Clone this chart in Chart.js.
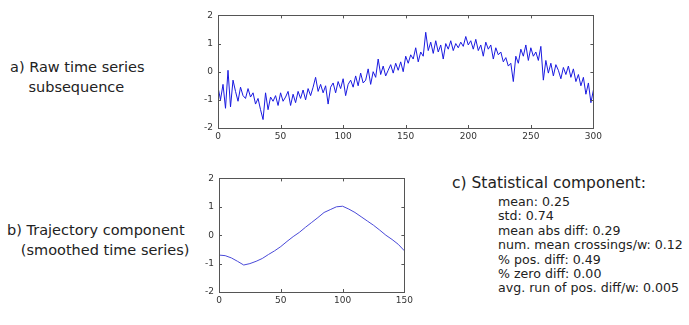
<!DOCTYPE html>
<html lang="en">
<head>
<meta charset="UTF-8">
<title>Time series components</title>
<script src="https://cdn.jsdelivr.net/npm/chart.js"></script>
<style>
  body { margin: 0; width: 689px; height: 325px; background: #fff; position: relative; overflow: hidden;
         font-family: "DejaVu Sans", sans-serif; color: #222; }
  .lbl { position: absolute; font-size: 14.5px; line-height: 20px; white-space: nowrap; }
  .stats { position: absolute; left: 498px; top: 195px; font-size: 12.6px; line-height: 14.4px; white-space: nowrap; }
  canvas { position: absolute; }
</style>
</head>
<body>
<div class="lbl" style="left:10px;top:57px">a) Raw time series<br>&nbsp;&nbsp;&nbsp;&nbsp;subsequence</div>
<div class="lbl" style="left:7px;top:220px">b) Trajectory component<br>&nbsp;&nbsp;&nbsp;(smoothed time series)</div>
<div class="lbl" style="left:452px;top:173px;font-size:15.5px">c) Statistical component:</div>
<div class="stats" id="stats"></div>

<div id="topWrap" style="position:absolute;left:190px;top:5px;width:415px;height:143px"><canvas id="rawChart"></canvas></div>
<div id="botWrap" style="position:absolute;left:191px;top:168px;width:225px;height:144px"><canvas id="smoothChart"></canvas></div>

<script>
// raw subsequence, one value every 2 steps (x = 0..300)
const rawStep = 2;
const rawValues = [
  -0.55, -1.0, -0.45, -1.3, 0.05, -1.25, -0.3, -0.7, -1.05, -0.55,
  -0.85, -0.95, -0.6, -0.9, -0.75, -1.15, -0.95, -1.35, -1.7, -0.75,
  -1.35, -0.9, -1.05, -0.85, -1.2, -0.75, -1.05, -0.9, -0.7, -1.2,
  -0.8, -1.1, -0.7, -0.95, -0.65, -1.0, -0.6, -0.85, -0.55, -0.2,
  -0.7, -0.45, -0.75, -0.5, -1.15, -0.55, -0.4, -0.75, -0.35, -0.6,
  -0.25, -0.85, -0.45, -0.3, -0.55, -0.15, -0.5, -0.05, -0.4, -0.3,
  0.1, -0.45, 0.0, -0.2, 0.45, -0.1, 0.2, -0.15, 0.05, 0.25,
  -0.05, 0.3, 0.05, 0.35, 0.0, 0.55, 0.3, 0.6, 0.45, 0.85,
  0.35, 0.7, 0.55, 1.4, 0.75, 1.05, 0.65, 1.1, 0.7, 0.95,
  0.45, 1.0, 0.8, 1.1, 0.75, 1.0, 0.85, 1.05, 0.9, 1.25,
  0.95, 1.1, 0.8, 1.15, 0.75, 0.95, 0.55, 1.05, 0.8, 0.95,
  0.45, 0.85, 0.6, 0.7, 0.35, 0.5, 0.2, 0.3, -0.35, 0.55,
  0.3, 0.8, 0.55, 0.95, 0.4, 0.85, 0.55, 0.7, 0.4, 0.9,
  -0.3, 0.4, -0.05, 0.3, -0.15, 0.25, 0.05, -0.25, 0.15, -0.1,
  0.2, -0.2, 0.1, -0.35, -0.1, -0.5, -0.2, -0.8, -0.4, -1.1,
  -0.65
];

// smoothed trajectory, one value every 5 steps (x = 0..150)
const smoothStep = 5;
const smoothValues = [
  -0.7, -0.72, -0.8, -0.92, -1.05, -1.0, -0.92, -0.82, -0.68, -0.55,
  -0.4, -0.22, -0.05, 0.1, 0.28, 0.45, 0.62, 0.8, 0.9, 1.0,
  1.02, 0.92, 0.8, 0.65, 0.5, 0.35, 0.18, 0.0, -0.15, -0.32,
  -0.55
];

const yTicks = [-2, -1, 0, 1, 2];
const rawXTicks = [0, 50, 100, 150, 200, 250, 300];
const smoothXTicks = [0, 50, 100, 150];

const statLines = [
  'mean: 0.25',
  'std: 0.74',
  'mean abs diff: 0.29',
  'num. mean crossings/w: 0.12',
  '% pos. diff: 0.49',
  '% zero diff: 0.00',
  'avg. run of pos. diff/w: 0.005'
];
document.getElementById('stats').innerHTML = statLines.join('<br>');

// matlab-ish box with inward ticks on all four sides
const boxPlugin = {
  id: 'box',
  afterDraw(chart) {
    const { ctx, chartArea: a, scales } = chart;
    ctx.save();
    ctx.strokeStyle = '#555';
    ctx.lineWidth = 1;
    ctx.strokeRect(Math.round(a.left) + 0.5, Math.round(a.top) + 0.5,
                   Math.round(a.right - a.left), Math.round(a.bottom - a.top));
    const len = 3;
    ctx.beginPath();
    scales.x.ticks.forEach(t => {
      const px = Math.round(scales.x.getPixelForValue(t.value)) + 0.5;
      ctx.moveTo(px, a.bottom); ctx.lineTo(px, a.bottom - len);
      ctx.moveTo(px, a.top); ctx.lineTo(px, a.top + len);
    });
    scales.y.ticks.forEach(t => {
      const py = Math.round(scales.y.getPixelForValue(t.value)) + 0.5;
      ctx.moveTo(a.left, py); ctx.lineTo(a.left + len, py);
      ctx.moveTo(a.right, py); ctx.lineTo(a.right - len, py);
    });
    ctx.stroke();
    ctx.restore();
  }
};

function makeChart(id, values, step, xTicks, color) {
  const pts = values.map((v, i) => ({ x: i * step, y: v }));
  return new Chart(document.getElementById(id), {
    type: 'line',
    data: { datasets: [{ data: pts, borderColor: color, borderWidth: 1, pointRadius: 0, tension: 0 }] },
    options: {
      responsive: true,
      maintainAspectRatio: false,
      animation: false,
      layout: { padding: { top: 8, right: 7, left: 0, bottom: 0 } },
      plugins: { legend: { display: false }, tooltip: { enabled: false } },
      scales: {
        x: {
          type: 'linear', min: xTicks[0], max: xTicks[xTicks.length - 1],
          afterBuildTicks: s => { s.ticks = xTicks.map(v => ({ value: v })); },
          afterFit: s => { s.height = 20; },
          grid: { display: false, drawTicks: false },
          border: { display: false },
          ticks: { color: '#333', font: { size: 9, family: 'DejaVu Sans' }, padding: 3, maxRotation: 0 }
        },
        y: {
          min: -2, max: 2,
          afterBuildTicks: s => { s.ticks = yTicks.map(v => ({ value: v })); },
          afterFit: s => { s.width = 28; },
          grid: { display: false, drawTicks: false },
          border: { display: false },
          ticks: { color: '#333', font: { size: 9, family: 'DejaVu Sans' }, padding: 5 }
        }
      }
    },
    plugins: [boxPlugin]
  });
}

makeChart('rawChart', rawValues, rawStep, rawXTicks, '#1a1ae0');
makeChart('smoothChart', smoothValues, smoothStep, smoothXTicks, '#4a4ad8');
</script>
</body>
</html>
